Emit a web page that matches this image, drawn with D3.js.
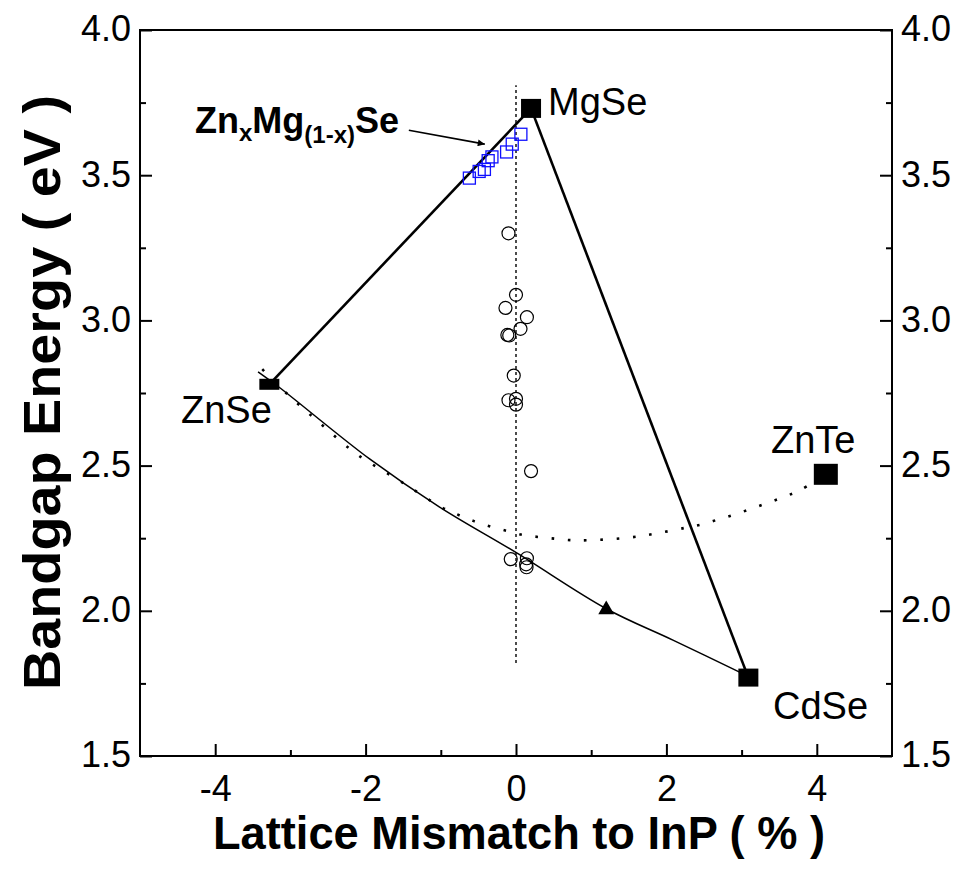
<!DOCTYPE html>
<html>
<head>
<meta charset="utf-8">
<script src="https://cdn.jsdelivr.net/npm/d3@7"></script>
<style>
  html, body { margin: 0; padding: 0; background: #fff; }
  svg { display: block; font-family: Arial, "Liberation Sans", Helvetica, sans-serif; }
</style>
</head>
<body>
<svg id="chart" width="964" height="869"></svg>
<script>
// Binary end-point compounds (lattice mismatch to InP in %, bandgap in eV)
const compoundNames = ["MgSe", "ZnSe", "CdSe", "ZnTe"];
const compoundMismatch = [0.20, -3.28, 3.09, 4.12];
const compoundGap = [3.73, 2.78, 1.77, 2.47];

// Zn(x)Mg(1-x)Se layers (open blue squares)
const znmgseMismatch = [0.065, -0.05, -0.125, -0.32, -0.37, -0.42, -0.49, -0.62];
const znmgseGap = [3.641, 3.607, 3.580, 3.563, 3.550, 3.520, 3.513, 3.490];

// Quaternary layers near lattice match (open circles)
const layerMismatch = [-0.10, 0.00, -0.14, 0.145, 0.06, -0.115, -0.09, -0.03, -0.10, 0.00, 0.00, 0.20, -0.07, 0.145, 0.135, 0.14];
const layerGap = [3.30, 3.088, 3.043, 3.011, 2.971, 2.950, 2.948, 2.81, 2.725, 2.73, 2.71, 2.481, 2.178, 2.181, 2.160, 2.150];

// Ternary point on the ZnSe-CdSe branch (filled triangle)
const triMismatch = [1.20];
const triGap = [2.007];

// ZnCdSe bowing curve (solid)
const zncdseMismatch = [-3.43, -3.145, -1.947, -1.016, 0.004, 1.20, 2.087, 3.09];
const zncdseGap = [2.823, 2.769, 2.523, 2.357, 2.200, 2.007, 1.899, 1.774];

// ZnSeTe bowing curve (dotted)
const znseteMismatch = [-3.374, -3.153, -2.940, -2.718, -2.505, -2.289, -2.071, -1.50, -0.993, -0.773, -0.551, -0.342, -0.121, 0.092, 0.305, 0.527, 0.743, 0.961, 1.50, 1.90, 2.255, 2.477, 2.694, 2.911, 3.124, 3.342, 3.559, 3.775, 4.12];
const znseteGap = [2.832, 2.774, 2.722, 2.671, 2.623, 2.574, 2.531, 2.440, 2.357, 2.331, 2.308, 2.290, 2.275, 2.261, 2.254, 2.248, 2.243, 2.243, 2.252, 2.268, 2.286, 2.298, 2.315, 2.332, 2.351, 2.371, 2.392, 2.415, 2.471];

// Lattice-match reference line
const matchLineX = [0, 0];
const matchLineY = [1.82, 3.81];

// Axis ticks
const xTickValues = [-4, -2, 0, 2, 4];
const xMinorValues = [-3, -1, 1, 3];
const yTickValues = [1.5, 2.0, 2.5, 3.0, 3.5, 4.0];
const yMinorValues = [1.75, 2.25, 2.75, 3.25, 3.75];

const xDomain = [-5, 5];
const yDomain = [1.5, 4.0];

const svg = d3.select("#chart");
const frame = { left: 140, right: 892, top: 30, bottom: 756 };

const x = d3.scaleLinear().domain(xDomain).range([frame.left, frame.right]);
const y = d3.scaleLinear().domain(yDomain).range([frame.bottom, frame.top]);

const plot = svg.append("g");

// Frame
plot.append("rect")
  .attr("x", frame.left).attr("y", frame.top)
  .attr("width", frame.right - frame.left).attr("height", frame.bottom - frame.top)
  .attr("fill", "none").attr("stroke", "#000").attr("stroke-width", 2);

// Axes with inward ticks
function styleAxis(g) {
  g.select(".domain").remove();
  g.selectAll(".tick line").attr("stroke", "#000").attr("stroke-width", 2);
}
const tickFont = "Arial, 'Liberation Sans', sans-serif";

const xAxis = svg.append("g").attr("transform", `translate(0,${frame.bottom})`)
  .call(d3.axisBottom(x).tickValues(xTickValues).tickSizeInner(-12).tickSizeOuter(0)
    .tickFormat(d => String(d)));
styleAxis(xAxis);
xAxis.selectAll(".tick text").attr("y", 45).attr("dy", 0)
  .attr("font-size", 36).attr("fill", "#000").attr("font-family", tickFont);

svg.append("g").attr("transform", `translate(0,${frame.bottom})`)
  .call(d3.axisBottom(x).tickValues(xMinorValues).tickSizeInner(-6).tickSizeOuter(0).tickFormat(""))
  .call(styleAxis);

const yAxisL = svg.append("g").attr("transform", `translate(${frame.left},0)`)
  .call(d3.axisLeft(y).tickValues(yTickValues).tickSizeInner(-12).tickSizeOuter(0).tickFormat(d3.format(".1f")));
styleAxis(yAxisL);
yAxisL.selectAll(".tick text").attr("x", -9).attr("dy", "0.3em")
  .attr("font-size", 36).attr("fill", "#000").attr("font-family", tickFont);
svg.append("g").attr("transform", `translate(${frame.left},0)`)
  .call(d3.axisLeft(y).tickValues(yMinorValues).tickSizeInner(-6).tickSizeOuter(0).tickFormat(""))
  .call(styleAxis);

const yAxisR = svg.append("g").attr("transform", `translate(${frame.right},0)`)
  .call(d3.axisRight(y).tickValues(yTickValues).tickSizeInner(-12).tickSizeOuter(0).tickFormat(d3.format(".1f")));
styleAxis(yAxisR);
yAxisR.selectAll(".tick text").attr("x", 9).attr("dy", "0.3em")
  .attr("font-size", 36).attr("fill", "#000").attr("font-family", tickFont);
svg.append("g").attr("transform", `translate(${frame.right},0)`)
  .call(d3.axisRight(y).tickValues(yMinorValues).tickSizeInner(-6).tickSizeOuter(0).tickFormat(""))
  .call(styleAxis);

// Axis titles
svg.append("text")
  .attr("x", (frame.left + frame.right) / 2 + 3).attr("y", 849)
  .attr("text-anchor", "middle")
  .attr("font-size", 46).attr("font-weight", "bold")
  .attr("textLength", 612).attr("lengthAdjust", "spacingAndGlyphs")
  .text("Lattice Mismatch to InP  ( % )");

svg.append("text")
  .attr("transform", `translate(60,${(95 + 690) / 2}) rotate(-90)`)
  .attr("text-anchor", "middle")
  .attr("font-size", 52).attr("font-weight", "bold")
  .attr("textLength", 595).attr("lengthAdjust", "spacingAndGlyphs")
  .text("Bandgap Energy ( eV )");

const pts = (xs, ys) => xs.map((v, i) => [v, ys[i]]);
const straight = d3.line().x(d => x(d[0])).y(d => y(d[1]));
const smooth = d3.line().x(d => x(d[0])).y(d => y(d[1])).curve(d3.curveCatmullRom.alpha(0.5));

// Lattice-match reference (dotted vertical)
plot.append("path")
  .attr("d", straight(pts(matchLineX, matchLineY)))
  .attr("fill", "none").attr("stroke", "#000").attr("stroke-width", 1.4)
  .attr("stroke-dasharray", "3,3");

// ZnSeTe bowing (dotted)
plot.append("path")
  .attr("d", smooth(pts(znseteMismatch, znseteGap)))
  .attr("fill", "none").attr("stroke", "#000").attr("stroke-width", 2.6)
  .attr("stroke-dasharray", "2.6,13.7");

// ZnCdSe bowing (solid)
plot.append("path")
  .attr("d", smooth(pts(zncdseMismatch, zncdseGap)))
  .attr("fill", "none").attr("stroke", "#000").attr("stroke-width", 1.5);

// MgSe-ZnSe and MgSe-CdSe tie lines
const idx = n => compoundNames.indexOf(n);
[["MgSe", "ZnSe"], ["MgSe", "CdSe"]].forEach(([a, b]) => {
  plot.append("line")
    .attr("x1", x(compoundMismatch[idx(a)])).attr("y1", y(compoundGap[idx(a)]))
    .attr("x2", x(compoundMismatch[idx(b)])).attr("y2", y(compoundGap[idx(b)]))
    .attr("stroke", "#000").attr("stroke-width", 2.6);
});

// Open circles
plot.selectAll("circle.layer")
  .data(pts(layerMismatch, layerGap)).enter().append("circle")
  .attr("class", "layer")
  .attr("cx", d => x(d[0])).attr("cy", d => y(d[1])).attr("r", 6.5)
  .attr("fill", "none").attr("stroke", "#000").attr("stroke-width", 1.2);

// Open blue squares
plot.selectAll("rect.znmgse")
  .data(pts(znmgseMismatch, znmgseGap)).enter().append("rect")
  .attr("class", "znmgse")
  .attr("x", d => x(d[0]) - 6).attr("y", d => y(d[1]) - 6)
  .attr("width", 12).attr("height", 12)
  .attr("fill", "none").attr("stroke", "#1010ff").attr("stroke-width", 1.3);

// Filled triangle
plot.selectAll("path.tri")
  .data(pts(triMismatch, triGap)).enter().append("path")
  .attr("class", "tri")
  .attr("transform", d => `translate(${x(d[0])},${y(d[1]) + 1})`)
  .attr("d", d3.symbol(d3.symbolTriangle, 110)())
  .attr("fill", "#000");

// Filled compound squares
const markerSize = { MgSe: [20, 19], ZnSe: [20, 11], CdSe: [20, 18], ZnTe: [24, 21] };
plot.selectAll("rect.compound")
  .data(compoundNames).enter().append("rect")
  .attr("class", "compound")
  .attr("x", (n, i) => x(compoundMismatch[i]) - markerSize[n][0] / 2)
  .attr("y", (n, i) => y(compoundGap[i]) - markerSize[n][1] / 2)
  .attr("width", n => markerSize[n][0]).attr("height", n => markerSize[n][1])
  .attr("fill", "#000");

// Compound labels
const labelPos = { MgSe: [548, 115], ZnSe: [181, 423], CdSe: [773, 719], ZnTe: [771, 453] };
compoundNames.forEach(n => {
  svg.append("text")
    .attr("x", labelPos[n][0]).attr("y", labelPos[n][1])
    .attr("font-size", 38).attr("fill", "#000")
    .text(n);
});

// Zn(x)Mg(1-x)Se label with arrow
const alloy = svg.append("text")
  .attr("x", 195).attr("y", 133)
  .attr("font-size", 36).attr("font-weight", "bold").attr("fill", "#000");
alloy.append("tspan").text("Zn");
alloy.append("tspan").attr("font-size", 24).attr("dy", 8).text("x");
alloy.append("tspan").attr("dy", -8).text("Mg");
alloy.append("tspan").attr("font-size", 24).attr("dy", 10).text("(1-x)");
alloy.append("tspan").attr("dy", -10).text("Se");

svg.append("defs").append("marker")
  .attr("id", "head").attr("viewBox", "0 0 10 10")
  .attr("refX", 10).attr("refY", 5)
  .attr("markerWidth", 10).attr("markerHeight", 7)
  .attr("markerUnits", "userSpaceOnUse")
  .attr("orient", "auto")
  .append("path").attr("d", "M0,0 L10,5 L0,10 Z").attr("fill", "#000");

const arrowX = [-1.425, -0.415];
const arrowY = [3.655, 3.607];
svg.append("line")
  .attr("x1", x(arrowX[0])).attr("y1", y(arrowY[0]))
  .attr("x2", x(arrowX[1])).attr("y2", y(arrowY[1]))
  .attr("stroke", "#000").attr("stroke-width", 1.6)
  .attr("marker-end", "url(#head)");
</script>
</body>
</html>
